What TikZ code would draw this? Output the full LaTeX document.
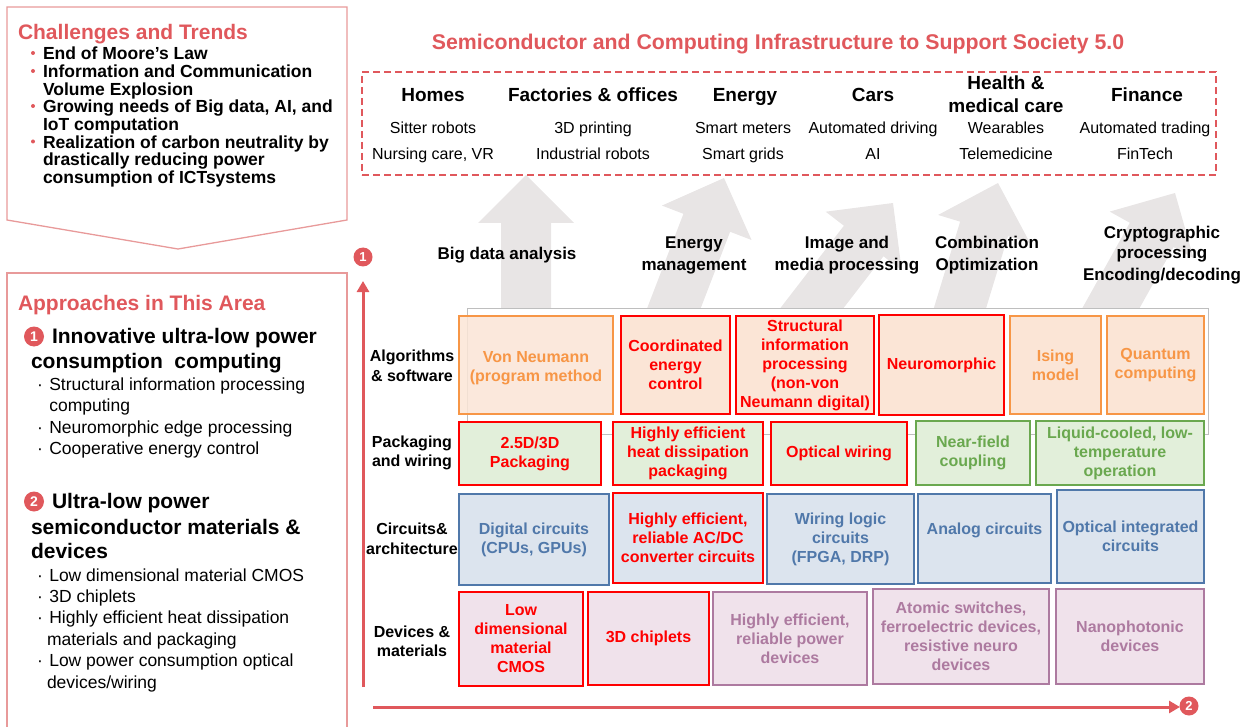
\documentclass[tikz,border=0pt]{standalone}
\usepackage{fontspec}
\setmainfont{Liberation Sans}
\usetikzlibrary{calc,arrows.meta}
\definecolor{tred}{HTML}{E0585C}
\definecolor{pborder}{HTML}{E89A9A}
\definecolor{agrey}{HTML}{E8E5E5}
\definecolor{oC}{HTML}{F79646}
\definecolor{oF}{HTML}{FBE5D6}
\definecolor{gC}{HTML}{6AA84F}
\definecolor{gF}{HTML}{E2EFDA}
\definecolor{bC}{HTML}{5078AA}
\definecolor{bF}{HTML}{DCE4EE}
\definecolor{mC}{HTML}{AD7AA0}
\definecolor{mF}{HTML}{F0E2EB}
\definecolor{pRed}{HTML}{FF0000}
\newcommand\fz[2]{\fontsize{#1}{#2}\selectfont}
\newcommand\bx[7]{\node[box,#6,anchor=north west,minimum width={#4-#2},minimum height={#5-#3}] (#1) at (#2,#3) {#7};}
\newcommand\garrow[5]{%
  \coordinate (#1b) at (#2,#3); \coordinate (#1t) at (#4,#5);
  \coordinate (#1h) at ($(#1t)!48pt!(#1b)$);
  \coordinate (#1e) at ($(#1b)!-0.25!(#1t)$);
  \fill[agrey] ($(#1e)!25pt!90:(#1t)$) -- ($(#1h)!25pt!90:(#1t)$) -- ($(#1h)!48pt!90:(#1t)$) -- (#1t) -- ($(#1h)!48pt!-90:(#1t)$) -- ($(#1h)!25pt!-90:(#1t)$) -- ($(#1e)!25pt!-90:(#1t)$) -- cycle;}
\tikzset{
  box/.style={draw, line width=1.6pt, align=center, font=\bfseries\fz{16}{19}, inner sep=0pt},
  oBox/.style={draw=oC, fill=oF, text=oC},
  rA/.style={draw=pRed, fill=oF, text=pRed},
  rP/.style={draw=pRed, fill=gF, text=pRed},
  gBox/.style={draw=gC, fill=gF, text=gC},
  bBox/.style={draw=bC, fill=bF, text=bC},
  rC/.style={draw=pRed, fill=bF, text=pRed},
  rD/.style={draw=pRed, fill=mF, text=pRed},
  mBox/.style={draw=mC, fill=mF, text=mC},
  panel/.style={draw=pborder, line width=1.3pt},
  ptitle/.style={anchor=base west, font=\bfseries\fz{21}{21}, text=tred},
  bul/.style={anchor=base west, font=\bfseries\fz{17.5}{17.7}},
  bdot/.style={circle, fill=tred, minimum size=4pt},
  head/.style={anchor=base west, font=\bfseries\fz{21}{25}},
  sub/.style={anchor=base west, font=\fz{17.5}{21}},
  cat/.style={anchor=base, font=\bfseries\fz{19}{22.7}, align=center},
  itm/.style={anchor=base, font=\fz{16}{26}},
  alab/.style={anchor=base, font=\bfseries\fz{17}{21}, align=center},
  rlab/.style={anchor=base, font=\bfseries\fz{16}{19.5}, align=center},
  numc/.style={circle, fill=tred, text=white, font=\bfseries\fz{13}{13}, minimum size=19pt},
  axis/.style={draw=tred, line width=3pt, -{Triangle[width=12pt,length=11pt]}}
}
\begin{document}
\begin{tikzpicture}[x=1pt,y=-1pt,every node/.style={inner sep=0pt,outer sep=0pt}]
\useasboundingbox (0,0) rectangle (1255,727);

% ---------- left panels ----------
\draw[panel] (7,7) -- (347,7) -- (347,220) -- (178,249) -- (7,220) -- cycle;
\draw[panel] (7,730) -- (7,273) -- (347,273) -- (347,730);

\node[ptitle] (ct) at (18,39.5) {Challenges and Trends};
\node[bdot] (d1) at (33,53) {};
\node[bdot] (d2) at (33,71) {};
\node[bdot] (d3) at (33,106) {};
\node[bdot] (d4) at (33,141.5) {};
\node[bul] (t1) at (43,60) {End of Moore\symbol{39}s Law};
\node[bul] (t2) at (43,77.7) {Information and Communication};
\node[bul] (t3) at (43,95.5) {Volume Explosion};
\node[bul] (t4) at (43,113) {Growing needs of Big data, AI, and};
\node[bul] (t5) at (43,130.5) {IoT computation};
\node[bul] (t6) at (43,148.3) {Realization of carbon neutrality by};
\node[bul] (t7) at (43,166) {drastically reducing power};
\node[bul] (t8) at (43,183.5) {consumption of ICTsystems};

\node[ptitle] (at) at (18,310.7) {Approaches in This Area};
\node[numc, font=\bfseries\fz{14}{14}, minimum size=20pt] (c1) at (34,336.5) {1};
\node[head] (h1) at (52,343.3) {Innovative ultra-low power};
\node[head] (h2) at (31,368.5) {consumption\ \ computing};
\node[sub] (s1) at (37,390.7) {\makebox[12.3pt][l]{·}Structural information processing};
\node[sub] (s2) at (49.3,411.7) {computing};
\node[sub] (s3) at (37,433.3) {\makebox[12.3pt][l]{·}Neuromorphic edge processing};
\node[sub] (s4) at (37,454.3) {\makebox[12.3pt][l]{·}Cooperative energy control};
\node[numc, font=\bfseries\fz{14}{14}, minimum size=20pt] (c2) at (34,501.5) {2};
\node[head] (h3) at (52,508.3) {Ultra-low power};
\node[head] (h4) at (31,534) {semiconductor materials \&};
\node[head] (h5) at (31,558.3) {devices};
\node[sub] (s5) at (37,581) {\makebox[12.3pt][l]{·}Low dimensional material CMOS};
\node[sub] (s6) at (37,602.3) {\makebox[12.3pt][l]{·}3D chiplets};
\node[sub] (s7) at (37,623.3) {\makebox[12.3pt][l]{·}Highly efficient heat dissipation};
\node[sub] (s8) at (47,645.7) {materials and packaging};
\node[sub] (s9) at (37,666.7) {\makebox[12.3pt][l]{·}Low power consumption optical};
\node[sub] (s10) at (47,688.3) {devices/wiring};

% ---------- title & society box ----------
\node[anchor=base, font=\bfseries\fz{21.3}{21.3}, text=tred] (title) at (778,50) {Semiconductor and Computing Infrastructure to Support Society 5.0};
\node[draw=tred, line width=1.6pt, dash pattern=on 7pt off 4pt, anchor=north west, minimum width=854pt, minimum height=103pt] (frame) at (362,72) {};

\node[cat] (k1) at (433,101.7) {Homes};
\node[cat] (k2) at (593,101.7) {Factories \& offices};
\node[cat] (k3) at (745,101.7) {Energy};
\node[cat] (k4) at (873,101.7) {Cars};
\node[cat] (k5) at (1006,112.7) {Health \&\\medical care};
\node[cat] (k6) at (1147,101.7) {Finance};
\node[itm] (i1a) at (433,133.3) {Sitter robots};
\node[itm] (i1b) at (433,159.3) {Nursing care, VR};
\node[itm] (i2a) at (593,133.3) {3D printing};
\node[itm] (i2b) at (593,159.3) {Industrial robots};
\node[itm] (i3a) at (743,133.3) {Smart meters};
\node[itm] (i3b) at (743,159.3) {Smart grids};
\node[itm] (i4a) at (873,133.3) {Automated driving};
\node[itm] (i4b) at (873,159.3) {AI};
\node[itm] (i5a) at (1006,133.3) {Wearables};
\node[itm] (i5b) at (1006,159.3) {Telemedicine};
\node[itm] (i6a) at (1145,133.3) {Automated trading};
\node[itm] (i6b) at (1145,159.3) {FinTech};

% ---------- grey arrows ----------
\garrow{ga}{526}{308}{526}{175}
\garrow{gb}{674}{308}{724}{178}
\garrow{gc}{812}{308}{893}{203}
\garrow{gd}{960}{308}{998}{183}
\garrow{ge}{1111}{308}{1175}{193}

\node[alab] (l1) at (507,260) {Big data analysis};
\node[alab] (l2) at (694,270) {Energy\\management};
\node[alab] (l3) at (847,270) {Image and\\media processing};
\node[alab] (l4) at (987,270) {Combination\\Optimization};
\node[alab] (l5) at (1162,280) {Cryptographic\\processing\\Encoding/decoding};

% ---------- axes ----------
\coordinate (v0) at (363,687);
\coordinate (v1) at (363,281);
\coordinate (h0) at (373,707);
\coordinate (hh) at (1180,707);
\draw[axis] (v0) -- (v1);
\draw[axis] (h0) -- (hh);
\node[numc] (n1) at (363,257) {1};
\node[numc] (n2) at (1189,706) {2};

% ---------- grid ----------
\draw[draw={rgb,255:red,190;green,190;blue,190}, fill=white, line width=0.8pt] (467,308) rectangle (1208,434);

\node[rlab] (r1) at (412,381) {Algorithms\\\& software};
\node[rlab] (r2) at (412,466.7) {Packaging\\and wiring};
\node[rlab] (r3) at (412,554) {Circuits\&\\architecture};
\node[rlab] (r4) at (412,656.7) {Devices \&\\materials};

\bx{a1}{459}{316}{613}{414}{oBox, fill opacity=0.85, text opacity=1}{\mbox{}\\[-2pt]Von Neumann\\(program method}
\bx{a2}{621}{316}{730}{414}{rA}{Coordinated\\energy\\control}
\bx{a3}{736}{316}{874}{414}{rA}{Structural\\information\\processing\\(non-von\\Neumann digital)}
\bx{a4}{879}{315}{1004}{415}{rA}{Neuromorphic}
\bx{a5}{1010}{316}{1101}{414}{oBox}{Ising\\model}
\bx{a6}{1107}{316}{1204}{414}{oBox}{Quantum\\computing}

\bx{p1}{459}{422}{601}{485}{rP}{2.5D/3D\\Packaging}
\bx{p2}{613}{422}{763}{485}{rP}{Highly efficient\\heat dissipation\\packaging}
\bx{p3}{771}{422}{907}{485}{rP}{Optical wiring}
\bx{p4}{916}{421}{1030}{485}{gBox}{Near-field\\coupling}
\bx{p5}{1036}{421}{1204}{485}{gBox}{Liquid-cooled, low-\\temperature\\operation}

\bx{c1b}{459}{494}{609}{585}{bBox}{Digital circuits\\(CPUs, GPUs)}
\bx{c2b}{613}{493}{763}{583}{rC}{Highly efficient,\\reliable AC/DC\\converter circuits}
\bx{c3b}{767}{494}{914}{584}{bBox}{Wiring logic\\circuits\\(FPGA, DRP)}
\bx{c4b}{918}{494}{1051}{583}{bBox}{Analog circuits\\\mbox{}}
\bx{c5b}{1057}{490}{1204}{583}{bBox}{Optical integrated\\circuits}

\bx{e1}{459}{592}{583}{686}{rD}{Low\\dimensional\\material\\CMOS}
\bx{e2}{588}{592}{709}{685}{rD}{3D chiplets}
\bx{e3}{713}{592}{867}{685}{mBox}{Highly efficient,\\reliable power\\devices}
\bx{e4}{873}{589}{1049}{684}{mBox}{Atomic switches,\\ferroelectric devices,\\resistive neuro\\devices}
\bx{e5}{1056}{589}{1204}{684}{mBox}{Nanophotonic\\devices}
\end{tikzpicture}
\end{document}
